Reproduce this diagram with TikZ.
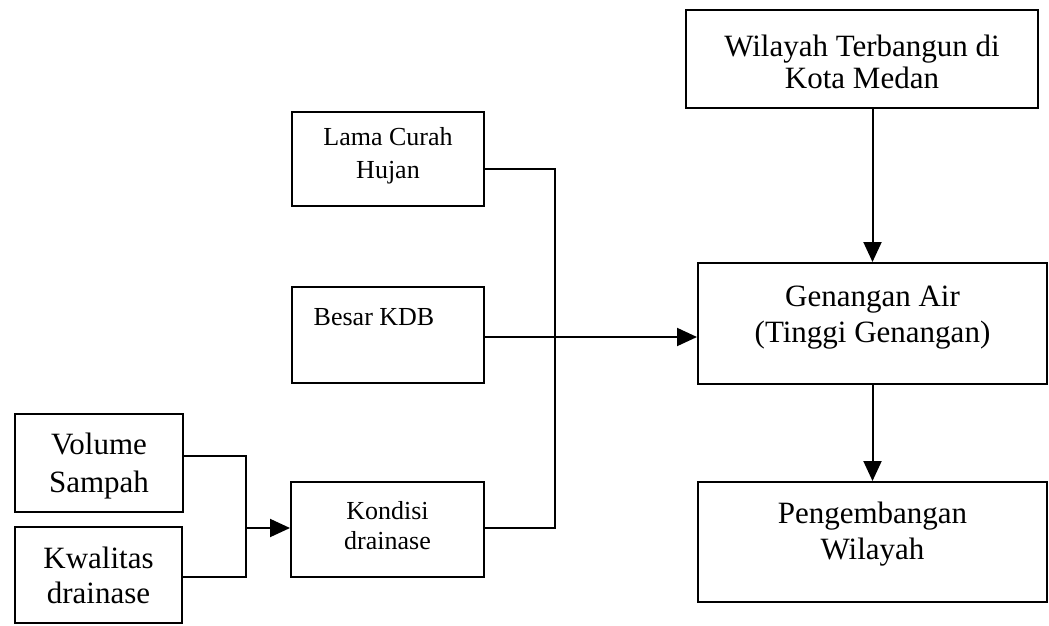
\documentclass[tikz,border=0pt]{standalone}
\usepackage{fontspec}
\setmainfont{Liberation Serif}
\usetikzlibrary{positioning, arrows.meta, calc}

\begin{document}
\begin{tikzpicture}[x=1pt, y=-1pt,
    box/.style={draw, line width=2pt, inner sep=0pt},
    bigtext/.style={align=center, inner sep=0pt, font=\fontsize{31}{36}\selectfont},
    smalltext/.style={align=center, inner sep=0pt, font=\fontsize{26}{31}\selectfont},
    line/.style={line width=2pt},
    arr/.style={line width=2pt, -{Triangle[length=20pt, width=18pt]}}]
  \useasboundingbox (0,0) rectangle (1049,626);
  % Kotak
  \node[box, minimum width=352pt, minimum height=98pt] (wilayah) at (862,59) {};
  \node[box, minimum width=349pt, minimum height=121pt] (genangan) at (872.5,323.5) {};
  \node[box, minimum width=349pt, minimum height=120pt] (pengembangan) at (872.5,542) {};
  \node[box, minimum width=192pt, minimum height=94pt] (lama) at (388,159) {};
  \node[box, minimum width=192pt, minimum height=96pt] (besar) at (388,335) {};
  \node[box, minimum width=193pt, minimum height=95pt] (kondisi) at (387.5,529.5) {};
  \node[box, minimum width=168pt, minimum height=98pt] (volume) at (99,463) {};
  \node[box, minimum width=167pt, minimum height=96pt] (kwalitas) at (98.5,575) {};
  % Teks di dalam kotak
  \node[bigtext, font=\fontsize{31}{32}\selectfont] (wilayah-t) at ($(wilayah)+(0,3)$) {Wilayah Terbangun di\\Kota Medan};
  \node[bigtext] (genangan-t) at ($(genangan)+(0,-6)$) {Genangan Air\\(Tinggi Genangan)};
  \node[bigtext] (pengembangan-t) at ($(pengembangan)+(0,-8)$) {Pengembangan\\Wilayah};
  \node[smalltext, font=\fontsize{26}{33}\selectfont] (lama-t) at ($(lama)+(0,-3)$) {Lama Curah\\Hujan};
  \node[smalltext] (besar-t) at ($(besar)+(-14,-18)$) {Besar KDB};
  \node[smalltext, font=\fontsize{26}{30}\selectfont] (kondisi-t) at ($(kondisi)+(0,-4)$) {Kondisi\\drainase};
  \node[bigtext, font=\fontsize{31}{38}\selectfont] (volume-t) at ($(volume)+(0,3)$) {Volume\\Sampah};
  \node[bigtext, font=\fontsize{31}{35}\selectfont] (kwalitas-t) at (kwalitas) {Kwalitas\\drainase};
  % Titik simpul
  \coordinate (gabung) at (246,528);
  \coordinate (simpul) at (555,337);
  % Penghubung
  \draw[line] ($(volume.east)+(0,-7)$) -| (gabung);
  \draw[line] ($(kwalitas.east)+(0,2)$) -| (gabung);
  \draw[arr] (gabung) -- (gabung -| kondisi.west);
  \draw[line] ($(lama.east)+(0,10)$) -| (simpul);
  \draw[line] ($(kondisi.east)+(0,-1.5)$) -| (simpul);
  \draw[arr] (besar.east |- simpul) -- (simpul -| genangan.west);
  \draw[arr] (wilayah.south -| genangan.north) -- (genangan.north);
  \draw[arr] (genangan.south) -- (pengembangan.north);
\end{tikzpicture}
\end{document}
